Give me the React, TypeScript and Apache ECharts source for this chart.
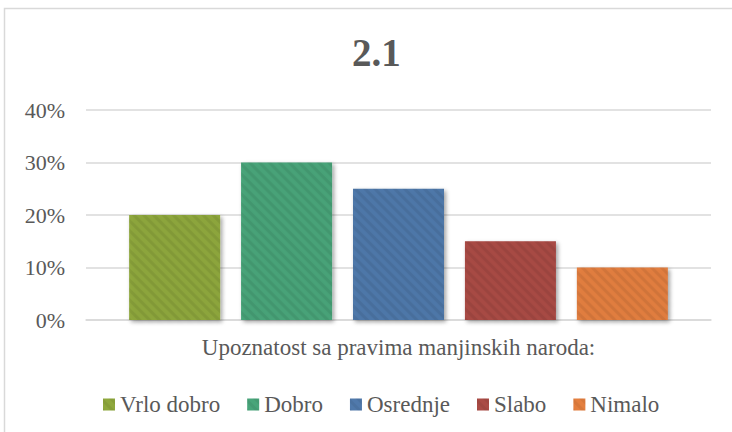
import React, { useEffect, useRef } from "react";
import * as echarts from "echarts";

const category = ["Upoznatost sa pravima manjinskih naroda:"];
const seriesNames = ["Vrlo dobro", "Dobro", "Osrednje", "Slabo", "Nimalo"];
const seriesValues = [20, 30, 25, 15, 10];
const seriesColors = ["#8FA83D", "#48A57A", "#5079AB", "#AA4B45", "#E47F3F"];
const yTicks = [0, 10, 20, 30, 40];

const FONT = "Liberation Serif, DejaVu Serif, serif";

export default function App() {
  const ref = useRef<HTMLDivElement>(null);
  useEffect(() => {
    document.body.style.margin = "0";
    if (!ref.current) return;
    const chart = echarts.init(ref.current, null, { renderer: "svg" });
    chart.setOption({
      animation: false,
      backgroundColor: "#ffffff",
      graphic: [
        {
          type: "rect",
          shape: { x: 4.5, y: 8.5, width: 740, height: 440 },
          style: { fill: "none", stroke: "#D9D9D9", lineWidth: 1.5 },
          silent: true,
        },
      ],
      title: {
        text: "2.1",
        left: 347,
        top: 28,
        textStyle: { fontFamily: FONT, fontSize: 39, fontWeight: "bold", color: "#595959" },
      },
      legend: {
        top: 388,
        left: 98,
        itemWidth: 12,
        itemHeight: 12,
        itemGap: 27,
        icon: "rect",
        textStyle: { fontFamily: FONT, fontSize: 23, color: "#595959" },
        data: seriesNames,
      },
      grid: { left: 86, right: 21, top: 110, bottom: 112 },
      xAxis: {
        type: "category",
        data: category,
        axisLine: { lineStyle: { color: "#D9D9D9", width: 1.5 } },
        axisTick: { show: false },
        axisLabel: { fontFamily: FONT, fontSize: 23, color: "#595959", margin: 16 },
      },
      yAxis: {
        type: "value",
        min: 0,
        max: 40,
        interval: 10,
        axisLine: { show: false },
        axisTick: { show: false },
        splitLine: { lineStyle: { color: "#D9D9D9", width: 1.5 } },
        axisLabel: {
          fontFamily: FONT,
          fontSize: 22,
          color: "#595959",
          margin: 21,
          formatter: (v: number) => (yTicks.includes(v) ? `${v}%` : ""),
        },
      },
      series: seriesNames.map((name, i) => ({
        name,
        type: "bar",
        data: [seriesValues[i]],
        barWidth: 91,
        barGap: "23%",
        itemStyle: {
          color: seriesColors[i],
          shadowBlur: 4,
          shadowColor: "rgba(0,0,0,0.35)",
          shadowOffsetX: 2,
          shadowOffsetY: 2,
          decal: {
            symbol: "rect",
            color: "rgba(0,0,0,0.06)",
            dashArrayX: [1, 0],
            dashArrayY: [3, 4],
            rotation: Math.PI / 4,
          },
        },
      })),
    });
    return () => chart.dispose();
  }, []);
  return <div ref={ref} style={{ width: 732, height: 432 }} />;
}
